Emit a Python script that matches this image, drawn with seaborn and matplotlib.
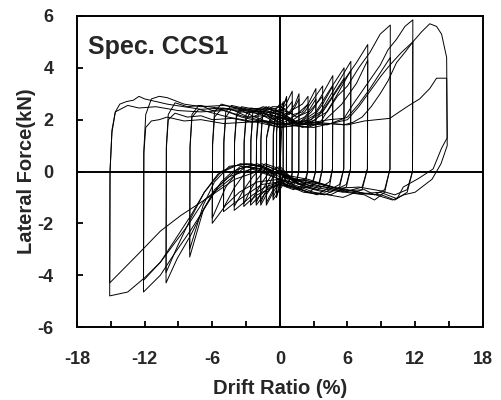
import numpy as np
import pandas as pd
import seaborn as sns
import matplotlib.pyplot as plt

# drift (%) and lateral force (kN), one group
# per drift level; "a" and "b" are the two cycles done at that level
drift_A = [0.0, 0.15, 0.3, 0.29, 0.12, -0.12, -0.3, -0.29, -0.14, 0.0]
force_Aa = [0.0, 1.5, 2.6, -0.1, -0.4, -0.6, -1.0, 1.6, 2.3, 2.4]
force_Ab = [2.4, 2.5, 2.7, -0.2, -0.5, -0.7, -1.0, 1.5, 2.2, 2.2]

drift_B = [0.0, 0.3, 0.6, 0.58, 0.3, 0.0, -0.3, -0.6, -0.58, -0.35, 0.0]
force_Ba = [2.2, 2.5, 2.9, -0.2, -0.5, -0.7, -0.9, -1.1, 1.5, 2.4, 2.6]
force_Bb = [2.6, 2.6, 2.8, -0.1, -0.4, -0.2, -0.7, -1.0, 1.4, 2.3, 2.3]

drift_C = [0.0, 0.55, 1.1, 1.08, 0.6, 0.0, -0.6, -1.2, -1.18, -0.7, 0.0]
force_Ca = [2.3, 2.6, 3.1, -0.2, -0.5, -0.4, -0.8, -1.3, 1.3, 2.5, 2.5]
force_Cb = [2.5, 2.4, 2.7, -0.1, -0.6, -0.2, -0.7, -1.2, 1.3, 2.2, 2.0]

drift_D = [0.0, 0.85, 1.35, 1.7, 1.68, 1.5, 0.85, 0.0, -0.6, -1.2, -1.7, -1.68, -1.55, -1.0, -0.4, 0.0]
force_Da = [2.0, 2.3, 2.6, 3.0, 0.0, -0.4, -0.6, -0.4, -0.5, -0.9, -1.3, 1.3, 2.2, 2.5, 2.4, 2.3]
force_Db = [2.3, 2.2, 2.5, 2.8, 0.0, -0.3, -0.5, 0.0, -0.2, -0.7, -1.2, 1.2, 2.1, 2.3, 2.0, 1.9]

drift_E = [0.0, 1.2, 2.0, 2.5, 2.47, 2.25, 1.2, 0.0, -0.7, -1.4, -2.1, -2.07, -1.9, -1.2, -0.5, 0.0]
force_Ea = [1.9, 2.4, 2.6, 2.9, 0.0, -0.5, -0.7, -0.5, -0.6, -0.9, -1.3, 1.3, 2.3, 2.5, 2.3, 2.4]
force_Eb = [2.4, 2.2, 2.3, 2.6, 0.0, -0.3, -0.4, 0.1, -0.1, -0.6, -1.2, 1.2, 2.0, 2.2, 2.0, 1.8]

drift_F = [0.0, 1.5, 2.5, 3.2, 3.17, 2.9, 1.6, 0.0, -0.9, -1.7, -2.6, -2.57, -2.4, -1.5, -0.6, 0.0]
force_Fa = [1.8, 2.2, 2.6, 3.2, 0.0, -0.5, -0.7, -0.5, -0.6, -0.9, -1.3, 1.2, 2.3, 2.5, 2.4, 2.5]
force_Fb = [2.5, 2.1, 2.3, 2.8, 0.0, -0.4, -0.5, 0.2, 0.0, -0.5, -1.2, 1.2, 2.1, 2.3, 2.0, 2.1]

drift_G = [0.0, 1.2, 2.2, 3.0, 3.8, 3.77, 3.5, 2.6, 1.4, 0.0,
           -1.1, -2.0, -2.6, -3.2, -3.17, -3.0, -2.6, -1.7, -0.8, 0.0]
force_Ga = [2.1, 2.0, 2.3, 2.8, 3.3, 0.1, -0.5, -0.8, -0.6, -0.5,
            -0.7, -0.9, -1.1, -1.35, 1.2, 2.2, 2.45, 2.4, 2.3, 2.2]
force_Gb = [2.2, 1.9, 2.1, 2.5, 2.9, 0.1, -0.4, -0.6, -0.6, 0.0,
            0.2, -0.3, -0.7, -1.25, 1.1, 2.0, 2.3, 2.2, 2.0, 1.7]

drift_H = [0.0, 1.5, 2.8, 3.8, 4.7, 4.67, 4.4, 3.3, 1.8, 0.0,
           -1.3, -2.4, -3.2, -4.05, -4.02, -3.85, -3.4, -2.2, -1.0, 0.0]
force_Ha = [1.7, 1.8, 2.3, 3.0, 3.7, 0.1, -0.6, -0.9, -0.7, -0.4,
            -0.6, -0.9, -1.2, -1.5, 1.2, 2.2, 2.5, 2.4, 2.4, 2.3]
force_Hb = [2.3, 1.9, 2.0, 2.6, 3.3, 0.1, -0.4, -0.7, -0.5, 0.1,
            0.3, -0.2, -0.7, -1.35, 1.1, 2.1, 2.35, 2.1, 1.9, 1.8]

drift_I = [0.0, 1.8, 3.2, 4.5, 5.7, 5.67, 5.3, 4.0, 2.1, 0.0,
           -1.6, -3.0, -4.0, -5.0, -4.97, -4.8, -4.3, -2.8, -1.2, 0.0]
force_Ia = [1.8, 1.9, 2.3, 3.2, 4.0, 0.1, -0.6, -0.9, -0.8, -0.4,
            -0.5, -0.9, -1.2, -1.55, 1.2, 2.3, 2.55, 2.4, 2.3, 2.2]
force_Ib = [2.2, 1.8, 2.0, 2.8, 3.6, 0.1, -0.5, -0.8, -0.6, 0.0,
            0.3, 0.0, -0.6, -1.4, 1.1, 2.1, 2.4, 2.1, 1.9, 1.8]

drift_J = [0.0, 2.0, 3.6, 5.0, 6.3, 6.27, 5.9, 4.5, 2.4, 0.0,
           -2.0, -3.6, -4.8, -6.0, -5.97, -5.8, -5.2, -3.4, -1.4, 0.0]
force_Ja = [1.8, 1.9, 2.3, 3.3, 4.25, 0.1, -0.6, -0.9, -0.8, -0.3,
            -0.4, -0.8, -1.3, -2.0, 1.1, 2.3, 2.6, 2.4, 2.3, 2.2]
force_Jb = [2.2, 1.8, 1.9, 2.9, 3.9, 0.1, -0.5, -0.8, -0.6, -0.1,
            0.3, 0.1, -0.6, -1.8, 1.0, 2.1, 2.4, 2.1, 1.9, 1.7]

drift_K = [0.0, 2.0, 3.8, 5.5, 6.8, 7.8, 7.77, 7.3, 5.6, 3.0, 0.0,
           -2.5, -4.5, -5.8, -6.8, -8.0, -7.97, -7.8, -7.2, -4.6, -2.0, 0.0]
force_Ka = [1.7, 1.8, 2.3, 3.4, 4.2, 4.9, 0.1, -0.7, -1.0, -0.8, -0.3,
            0.1, -0.2, -0.7, -1.5, -3.3, 1.0, 2.2, 2.55, 2.4, 2.3, 2.1]
force_Kb = [2.1, 1.7, 1.9, 2.6, 3.4, 4.3, 0.1, -0.6, -0.8, -0.6, -0.1,
            0.3, 0.2, -0.4, -1.3, -3.0, 0.9, 2.1, 2.4, 2.1, 1.9, 1.7]

drift_L = [0.0, 1.2, 2.5, 3.4, 4.2, 5.1, 6.0, 7.0, 8.0, 8.9, 9.8,
           9.77, 9.3, 8.4, 7.5, 5.8, 4.0, 2.0, 0.0,
           -1.5, -3.0, -4.2, -5.2, -6.7, -7.9, -9.1, -10.1,
           -10.07, -9.9, -9.3, -8.2, -7.0, -6.0, -4.2, -2.5, -1.2, 0.0]
force_La = [1.7, 1.9, 1.8, 2.1, 2.3, 2.9, 3.3, 4.0, 4.6, 5.3, 5.65,
            0.1, -0.8, -1.1, -0.9, -0.8, -0.6, -0.5, -0.3,
            0.0, 0.2, 0.0, -0.4, -1.4, -2.45, -3.35, -4.3,
            1.0, 2.2, 2.65, 2.5, 2.55, 2.35, 2.45, 2.3, 2.35, 2.2]
force_Lb = [2.2, 1.8, 1.7, 1.85, 1.8, 1.95, 2.1, 2.6, 3.2, 3.8, 4.4,
            0.1, -0.7, -0.9, -0.7, -0.75, -0.5, -0.4, -0.1,
            0.2, 0.3, 0.2, 0.0, -0.8, -1.8, -2.9, -3.9,
            0.9, 2.0, 2.25, 2.1, 2.15, 2.0, 2.05, 1.9, 1.95, 1.8]

drift_M = [0.0, 1.5, 3.0, 4.4, 5.7, 6.5, 7.3, 8.1, 8.9, 9.6, 10.35, 11.1, 11.8,
           11.77, 11.3, 10.2, 9.0, 7.0, 5.0, 2.5, 0.0,
           -1.8, -3.5, -5.5, -6.7, -7.9, -9.4, -10.6, -12.1,
           -12.07, -11.9, -11.4, -10.7, -10.0, -8.5, -7.0, -5.0, -3.0, -1.5, 0.0]
force_Ma = [1.8, 1.95, 1.9, 2.0, 2.05, 2.6, 3.1, 3.6, 4.1, 4.7, 5.1, 5.6, 5.85,
            0.0, -0.8, -1.1, -0.9, -0.85, -0.7, -0.45, -0.2,
            0.1, 0.2, -0.6, -1.43, -2.26, -3.2, -4.0, -4.65,
            0.8, 2.2, 2.8, 2.9, 2.85, 2.6, 2.5, 2.55, 2.4, 2.45, 2.3]
force_Mb = [2.3, 1.9, 1.8, 1.85, 1.8, 1.9, 2.1, 2.5, 3.0, 3.5, 4.2, 4.6, 5.0,
            0.0, -0.7, -0.9, -0.75, -0.6, -0.65, -0.3, -0.1,
            0.2, 0.3, -0.1, -0.8, -1.7, -2.7, -3.5, -4.2,
            0.7, 1.7, 1.95, 2.0, 2.1, 1.95, 2.0, 1.85, 1.9, 1.95, 1.9]

drift_Na = [0.0, 1.5, 3.0, 4.5, 6.0, 7.0, 8.0, 9.0, 9.75, 10.8, 11.8, 12.6, 13.3, 13.9, 14.35, 14.8,
            14.85, 14.35, 13.6, 12.3, 10.95, 10.4, 8.9, 7.5, 6.0, 4.5, 3.0, 1.5, 0.0,
            -1.5, -3.0, -5.0, -6.7, -8.2, -10.6, -12.0, -13.5, -15.1,
            -15.07, -14.9, -14.6, -14.2, -13.6, -13.0, -12.5, -12.0, -11.0, -10.0, -8.5, -7.0,
            -5.0, -3.5, -1.8, 0.0]
force_Na = [2.1, 1.85, 1.9, 1.85, 2.0, 2.5, 3.1, 3.7, 4.1, 4.6, 5.0, 5.4, 5.7, 5.6, 5.3, 4.4,
            1.3, 0.9, 0.1, -0.27, -0.6, -1.05, -0.8, -0.85, -0.7, -0.6, -0.4, -0.3, -0.1,
            0.1, 0.2, -0.5, -1.1, -2.1, -3.5, -4.1, -4.65, -4.8,
            0.0, 1.6, 2.3, 2.6, 2.7, 2.75, 2.9, 2.8, 2.7, 2.6, 2.5, 2.4,
            2.45, 2.3, 2.25, 2.1]
drift_Nb = [0.0, 1.5, 3.0, 4.5, 6.0, 7.5, 9.75, 10.6, 11.5, 12.4, 13.3, 13.9, 14.8,
            14.85, 14.3, 13.5, 12.0, 11.0, 10.0, 8.5, 7.0, 5.0, 3.0, 1.5, 0.0,
            -2.0, -4.0, -6.0, -8.8, -10.6, -12.6, -15.1,
            -15.07, -14.9, -14.6, -13.5, -12.5, -11.0, -9.0, -7.0, -5.0, -3.0, -1.5, 0.0]
force_Nb = [1.9, 1.75, 1.7, 1.85, 1.8, 1.95, 2.05, 2.3, 2.56, 2.8, 3.2, 3.6, 3.6,
            1.0, 0.3, -0.3, -0.8, -0.9, -1.1, -0.9, -0.8, -0.65, -0.4, -0.3, -0.1,
            0.0, -0.3, -0.9, -1.7, -2.3, -3.2, -4.3,
            0.0, 1.5, 2.3, 2.55, 2.45, 2.5, 2.35, 2.3, 2.35, 2.1, 2.15, 2.0]

cycles = [
    (drift_A, force_Aa), (drift_A, force_Ab),
    (drift_B, force_Ba), (drift_B, force_Bb),
    (drift_C, force_Ca), (drift_C, force_Cb),
    (drift_D, force_Da), (drift_D, force_Db),
    (drift_E, force_Ea), (drift_E, force_Eb),
    (drift_F, force_Fa), (drift_F, force_Fb),
    (drift_G, force_Ga), (drift_G, force_Gb),
    (drift_H, force_Ha), (drift_H, force_Hb),
    (drift_I, force_Ia), (drift_I, force_Ib),
    (drift_J, force_Ja), (drift_J, force_Jb),
    (drift_K, force_Ka), (drift_K, force_Kb),
    (drift_L, force_La), (drift_L, force_Lb),
    (drift_M, force_Ma), (drift_M, force_Mb),
    (drift_Na, force_Na), (drift_Nb, force_Nb),
]

frames = []
for i, (d, f) in enumerate(cycles):
    frames.append(pd.DataFrame({'drift': d, 'force': f, 'cycle': i}))
df = pd.concat(frames, ignore_index=True)

sns.set_style('ticks')
plt.rcParams['font.family'] = ['Liberation Sans', 'DejaVu Sans']
plt.rcParams['font.weight'] = 'bold'
plt.rcParams['axes.unicode_minus'] = False

fig = plt.figure(figsize=(5.01, 4.0), dpi=100)
ax = fig.add_axes([0.1537, 0.1825, 0.8098, 0.7775])

sns.lineplot(data=df, x='drift', y='force', units='cycle', estimator=None,
             sort=False, color='black', linewidth=0.7, ax=ax, legend=False)

ax.axhline(0, color='black', linewidth=1.4, zorder=3)
ax.axvline(0, color='black', linewidth=1.4, zorder=3)

ax.set_xlim(-18, 18)
ax.set_ylim(-6, 6)
ax.set_xticks(np.arange(-18, 19, 6))
ax.set_xticks(np.arange(-18, 19, 3), minor=True)
ax.set_yticks(np.arange(-6, 7, 2))
ax.tick_params(axis='both', which='both', direction='in', length=4.5,
               width=1.3, pad=17, labelsize=13, color='black')
for lab in ax.get_xticklabels() + ax.get_yticklabels():
    lab.set_fontweight('bold')

for sp in ax.spines.values():
    sp.set_linewidth(1.4)
    sp.set_color('black')

ax.set_xlabel('Drift Ratio (%)', fontsize=14.5, fontweight='bold', labelpad=8)
ax.set_ylabel('Lateral Force(kN)', fontsize=14.5, fontweight='bold', labelpad=1)

ax.text(0.027, 0.94, 'Spec. CCS1', transform=ax.transAxes, fontsize=18,
        fontweight='bold', va='top', ha='left')

fig.savefig('out.png', dpi=100)
